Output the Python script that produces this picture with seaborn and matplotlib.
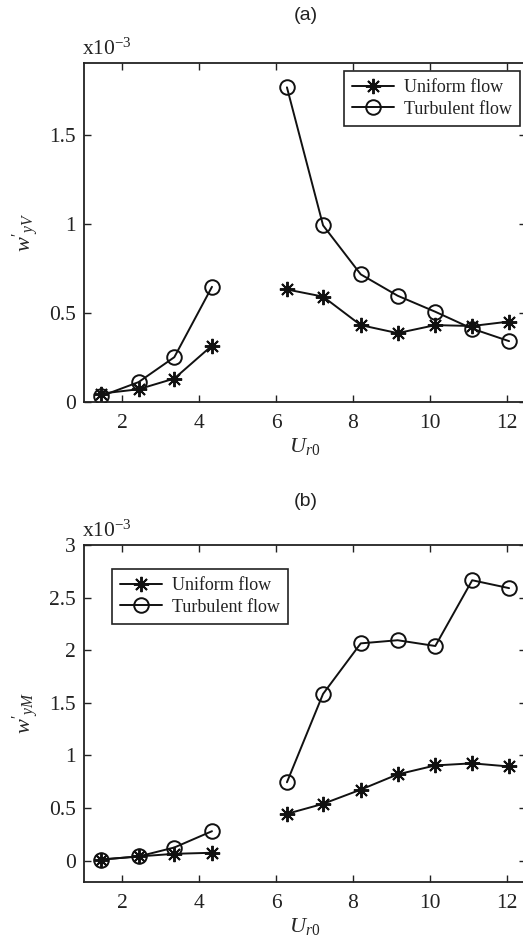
import numpy as np
import pandas as pd
import matplotlib
matplotlib.use("Agg")
import matplotlib.pyplot as plt
import seaborn as sns
from matplotlib.lines import Line2D

# ---------------- data (values in units of 1e-3) ----------------
x_low = [1.43, 2.42, 3.35, 4.33]
x_high = [6.28, 7.22, 8.20, 9.16, 10.14, 11.10, 12.06]

a_uniform_low = [0.045, 0.07, 0.13, 0.315]
a_uniform_high = [0.63, 0.59, 0.43, 0.385, 0.43, 0.425, 0.45]
a_turb_low = [0.03, 0.11, 0.25, 0.645]
a_turb_high = [1.765, 0.99, 0.715, 0.595, 0.505, 0.41, 0.34]

b_uniform_low = [0.01, 0.04, 0.065, 0.075]
b_uniform_high = [0.445, 0.54, 0.675, 0.82, 0.905, 0.925, 0.895]
b_turb_low = [0.01, 0.04, 0.125, 0.28]
b_turb_high = [0.745, 1.585, 2.065, 2.095, 2.04, 2.665, 2.59]

series_names = ["Uniform flow", "Turbulent flow"]
x_ticks = [2, 4, 6, 8, 10, 12]
a_yticks = [0, 0.5, 1, 1.5]
a_yticklabels = ["0", "0.5", "1", "1.5"]
b_yticks = [0, 0.5, 1, 1.5, 2, 2.5, 3]
b_yticklabels = ["0", "0.5", "1", "1.5", "2", "2.5", "3"]


def make_df(u_low, u_high, t_low, t_high):
    rows = []
    for name, lo, hi in [(series_names[0], u_low, u_high),
                         (series_names[1], t_low, t_high)]:
        for xv, yv in zip(x_low, lo):
            rows.append((xv, yv, name, 0))
        for xv, yv in zip(x_high, hi):
            rows.append((xv, yv, name, 1))
    return pd.DataFrame(rows, columns=["x", "y", "series", "seg"])


df_a = make_df(a_uniform_low, a_uniform_high, a_turb_low, a_turb_high)
df_b = make_df(b_uniform_low, b_uniform_high, b_turb_low, b_turb_high)

# ---------------- style ----------------
sns.set_theme(style="ticks")
plt.rcParams["font.family"] = ["Liberation Serif", "DejaVu Serif"]
plt.rcParams["mathtext.fontset"] = "custom"
plt.rcParams["mathtext.rm"] = "Liberation Serif"
plt.rcParams["mathtext.it"] = "Liberation Serif:italic"
plt.rcParams["text.color"] = "#222222"
plt.rcParams["axes.edgecolor"] = "#222222"

TICK_FS = 15.5
LEG_FS = 13
LAB_FS = 16

fig = plt.figure(figsize=(5.23, 9.42), dpi=100)
W, H = 523.0, 942.0

ax_a = fig.add_axes([84 / W, (H - 401.7) / H, (526 - 84) / W, (401.7 - 63.3) / H])
ax_b = fig.add_axes([84 / W, (H - 881.7) / H, (526 - 84) / W, (881.7 - 545) / H])

star = (8, 2, 0)
marker_map = {series_names[0]: star, series_names[1]: "o"}
MS_O = 10.5
MS_S = 11


def draw(ax, df, ylim, yticks, yticklabels, ylabel, leg_xy, panel, title_y, exp_y):
    for name in series_names:
        sub = df[df["series"] == name]
        mk = marker_map[name]
        kw = dict(marker=mk, markersize=MS_O if mk == "o" else MS_S,
                  markeredgewidth=1.4, markeredgecolor="#111111")
        if mk == "o":
            kw["markerfacecolor"] = "none"
        sns.lineplot(data=sub, x="x", y="y", units="seg", estimator=None,
                     color="#111111", linewidth=1.4, ax=ax,
                     legend=False, sort=False, **kw)
    ax.set_xlim(1, 12.5)
    ax.set_ylim(*ylim)
    ax.set_xticks(x_ticks)
    ax.set_xticklabels([str(t) for t in x_ticks])
    ax.set_yticks(yticks)
    ax.set_yticklabels(yticklabels)
    ax.tick_params(direction="in", top=True, right=True, length=5, width=1,
                   labelsize=TICK_FS, colors="#222222")
    ax.tick_params(axis="x", pad=9)
    ax.tick_params(axis="y", pad=6)
    for sp in ax.spines.values():
        sp.set_linewidth(1.3)
        sp.set_color("#222222")
    ax.set_xlabel(r"$U_{r0}$", fontsize=LAB_FS)
    ax.xaxis.set_label_coords(0.5, -0.133)
    ax.xaxis.label.set_va("center")
    ax.set_ylabel(ylabel, fontsize=LAB_FS)
    ax.yaxis.set_label_coords(-0.133, 0.5)
    ax.yaxis.label.set_va("center")

    handles = [
        Line2D([], [], color="#111111", linewidth=1.4, marker=star,
               markersize=MS_S, markeredgewidth=1.4),
        Line2D([], [], color="#111111", linewidth=1.4, marker="o",
               markersize=MS_O, markerfacecolor="none", markeredgewidth=1.4),
    ]
    leg = ax.legend(handles, series_names, loc="upper left",
                    bbox_to_anchor=(leg_xy[0] / W, 1 - leg_xy[1] / H),
                    bbox_transform=fig.transFigure, fontsize=LEG_FS,
                    frameon=True, fancybox=False, handlelength=2.3,
                    handletextpad=0.6, borderpad=0.45, labelspacing=0.25,
                    borderaxespad=0)
    leg.get_frame().set_edgecolor("#222222")
    leg.get_frame().set_linewidth(1.2)
    leg.get_frame().set_alpha(1)

    fig.text(306 / W, 1 - title_y / H, panel, ha="center", va="center",
             fontsize=14, family=["Liberation Sans", "DejaVu Sans"],
             color="#222222")
    fig.text(82 / W, 1 - exp_y / H, r"x10$^{\mathregular{-3}}$", ha="left",
             va="center", fontsize=TICK_FS, color="#222222")


draw(ax_a, df_a, (0, 1.9), a_yticks, a_yticklabels, r"$w'_{yV}$",
     (344, 71), "(a)", 15, 49)
draw(ax_b, df_b, (-0.2, 3), b_yticks, b_yticklabels, r"$w'_{yM}$",
     (112, 569), "(b)", 501, 531)

fig.savefig("out.png", dpi=100, facecolor="white")
